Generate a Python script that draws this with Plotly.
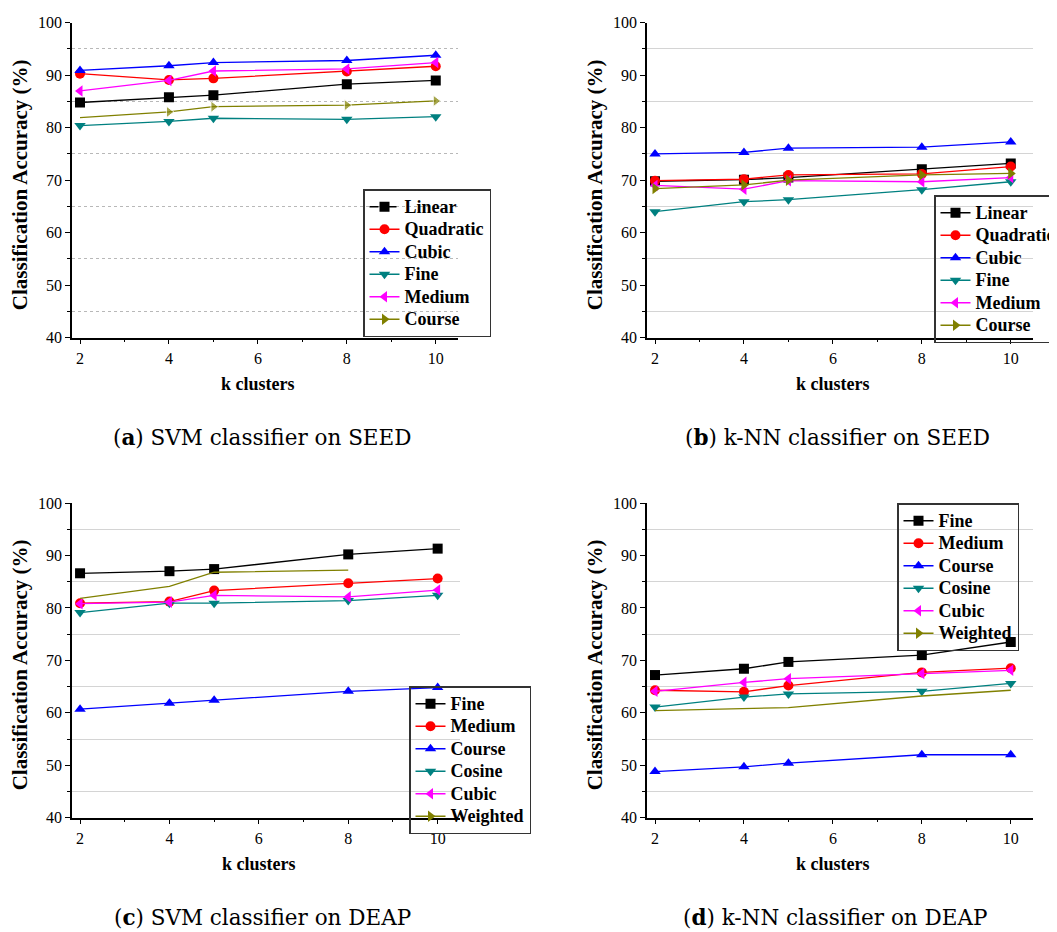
import plotly.graph_objects as go

W, H = 1057, 932
OFF = 8  # page body margin shifts the figure by 8px; compensate
k = [2, 4, 5, 8, 10]

# (a) SVM on SEED
a_names = ["Linear", "Quadratic", "Cubic", "Fine", "Medium", "Course"]
a_linear = [84.8, 85.8, 86.2, 88.3, 89.0]
a_quadratic = [90.3, 89.1, 89.4, 90.7, 91.7]
a_cubic = [90.9, 91.8, 92.4, 92.8, 93.8]
a_fine = [80.4, 81.2, 81.8, 81.6, 82.1]
a_medium = [87.0, 89.0, 90.8, 91.2, 92.4]
a_course = [81.9, 83.0, 84.0, 84.3, 85.1]

# (b) k-NN on SEED
b_names = ["Linear", "Quadratic", "Cubic", "Fine", "Medium", "Course"]
b_linear = [69.8, 70.1, 70.5, 72.1, 73.2]
b_quadratic = [69.9, 70.2, 71.0, 71.2, 72.6]
b_cubic = [75.0, 75.3, 76.1, 76.3, 77.3]
b_fine = [64.0, 65.9, 66.3, 68.2, 69.7]
b_medium = [69.0, 68.3, 69.9, 69.7, 70.5]
b_course = [68.4, 69.1, 70.0, 71.0, 71.3]

# (c) SVM on DEAP
c_names = ["Fine", "Medium", "Course", "Cosine", "Cubic", "Weighted"]
c_fine = [86.6, 87.0, 87.4, 90.2, 91.3]
c_medium = [80.9, 81.2, 83.3, 84.7, 85.6]
c_course = [60.7, 61.8, 62.4, 64.1, 64.8]
c_cosine = [79.1, 80.9, 80.9, 81.4, 82.4]
c_cubic = [80.8, 81.1, 82.4, 82.1, 83.4]
c_weighted = [81.8, 84.1, 86.8, 87.2, None]

# (d) k-NN on DEAP
d_names = ["Fine", "Medium", "Course", "Cosine", "Cubic", "Weighted"]
d_fine = [67.2, 68.4, 69.7, 71.0, 73.5]
d_medium = [64.3, 64.0, 65.2, 67.7, 68.5]
d_course = [48.8, 49.7, 50.4, 52.0, 52.0]
d_cosine = [61.1, 63.0, 63.6, 64.1, 65.6]
d_cubic = [64.1, 65.8, 66.5, 67.5, 68.1]
d_weighted = [60.4, 60.8, 61.0, 63.2, 64.3]

x_ticks = [2, 4, 6, 8, 10]
y_ticks = [40, 50, 60, 70, 80, 90, 100]

captions = ["SVM classifier on SEED", "k-NN classifier on SEED",
            "SVM classifier on DEAP", "k-NN classifier on DEAP"]
letters = ["a", "b", "c", "d"]

BLACK, RED, BLUE, TEAL, MAG, OLIVE = "#000000", "#FF0000", "#0000FF", "#008080", "#FF00FF", "#808000"
SYM = {"sq": "square", "ci": "circle", "up": "triangle-up", "dn": "triangle-down",
       "lf": "triangle-left", "rt": "triangle-right"}

SERIF = "Liberation Serif, Times New Roman, serif"


def px(x):
    return (x - OFF) / W


def py(y):
    return 1 - (y - OFF) / H


fig = go.Figure()

# panel geometry in reference pixels: (left, right, top, bottom)
panels = [(72, 458, 22.7, 337.7), (647, 1033, 22.7, 337.7),
          (72, 460, 503, 817.7), (647, 1033, 503, 817.7)]


def add(panel, name, y, color, sym, legend_marker=True, plot_marker=True, msize=None, dash=None):
    ax = "" if panel == 1 else str(panel)
    lg = "legend" if panel == 1 else "legend%d" % panel
    ms = msize if msize is not None else 10
    fig.add_trace(go.Scatter(
        x=k, y=y, name=name, mode="lines+markers" if plot_marker else "lines",
        line=dict(color=color, width=1.3),
        marker=dict(symbol=SYM[sym], color=color, size=ms),
        xaxis="x" + ax, yaxis="y" + ax, showlegend=False, connectgaps=False))
    fig.add_trace(go.Scatter(
        x=[None], y=[None], name='<span style="font-size:18px">%s</span>' % name,
        mode="lines+markers" if legend_marker else "lines",
        line=dict(color=color, width=1.3, dash=dash),
        marker=dict(symbol=SYM[sym], color=color, size=10),
        xaxis="x" + ax, yaxis="y" + ax, showlegend=True, legend=lg))


# (a)
add(1, a_names[0], a_linear, BLACK, "sq", dash="dash")
add(1, a_names[1], a_quadratic, RED, "ci")
add(1, a_names[2], a_cubic, BLUE, "up")
add(1, a_names[3], a_fine, TEAL, "dn")
add(1, a_names[4], a_medium, MAG, "lf")
add(1, a_names[5], a_course, OLIVE, "rt", msize=[0, 10, 10, 10, 10])
# (b)
add(2, b_names[0], b_linear, BLACK, "sq")
add(2, b_names[1], b_quadratic, RED, "ci")
add(2, b_names[2], b_cubic, BLUE, "up")
add(2, b_names[3], b_fine, TEAL, "dn")
add(2, b_names[4], b_medium, MAG, "lf")
add(2, b_names[5], b_course, OLIVE, "rt")
# (c)
add(3, c_names[0], c_fine, BLACK, "sq")
add(3, c_names[1], c_medium, RED, "ci")
add(3, c_names[2], c_course, BLUE, "up")
add(3, c_names[3], c_cosine, TEAL, "dn")
add(3, c_names[4], c_cubic, MAG, "lf")
add(3, c_names[5], c_weighted, OLIVE, "rt", plot_marker=False)
# (d)
add(4, d_names[0], d_fine, BLACK, "sq")
add(4, d_names[1], d_medium, RED, "ci")
add(4, d_names[2], d_course, BLUE, "up")
add(4, d_names[3], d_cosine, TEAL, "dn")
add(4, d_names[4], d_cubic, MAG, "lf")
add(4, d_names[5], d_weighted, OLIVE, "rt", plot_marker=False)

layout = dict(width=W, height=H, margin=dict(l=0, r=0, t=0, b=0, autoexpand=False),
              paper_bgcolor="white", plot_bgcolor="rgba(0,0,0,0)",
              font=dict(family=SERIF, size=16, color="black"))

annotations = []
for i, (l, r, t, b) in enumerate(panels):
    n = i + 1
    ax = "" if n == 1 else str(n)
    grid = dict(gridcolor="#b8b8b8", griddash="dot", gridwidth=1) if n == 1 else \
        dict(gridcolor="#d4d4d4", griddash="solid", gridwidth=1)
    layout["xaxis" + ax] = dict(
        domain=[px(l), px(r)], anchor="y" + ax, range=[1.82, 10.5], automargin=False,
        tickvals=x_ticks, ticks="outside", ticklen=5, tickwidth=1.2, tickcolor="black",
        showline=True, linecolor="black", linewidth=1.5, showgrid=False, zeroline=False,
        tickfont=dict(family=SERIF, size=16),
        minor=dict(tickvals=[3, 5, 7, 9], ticks="outside", ticklen=3, tickcolor="black", showgrid=False))
    layout["yaxis" + ax] = dict(
        domain=[py(b), py(t)], anchor="x" + ax, range=[40, 100], automargin=False,
        tickvals=y_ticks, ticks="outside", ticklen=5, tickwidth=1.2, tickcolor="black",
        showline=True, linecolor="black", linewidth=1.5, showgrid=False, zeroline=False,
        tickfont=dict(family=SERIF, size=16),
        minor=dict(tickvals=[45, 55, 65, 75, 85, 95], ticks="outside", ticklen=3,
                   tickcolor="black", showgrid=True, **grid))
    # y title
    annotations.append(dict(text="<b>Classification Accuracy (%)</b>", xref="paper", yref="paper",
                            x=px(l - 52), y=py((t + b) / 2 + 5), textangle=-90,
                            showarrow=False, font=dict(family=SERIF, size=21),
                            xanchor="center", yanchor="middle"))
    # x title
    annotations.append(dict(text="<b>k clusters</b>", xref="paper", yref="paper",
                            x=px((l + r) / 2 - 7), y=py(b + 46), showarrow=False,
                            font=dict(family=SERIF, size=18), xanchor="center", yanchor="middle"))

cap_pos = [(262, 437), (837, 437), (262, 917), (835, 917)]
for i, (cx, cy) in enumerate(cap_pos):
    annotations.append(dict(text="(<b>%s</b>) %s" % (letters[i], captions[i]), xref="paper", yref="paper",
                            x=px(cx), y=py(cy), showarrow=False,
                            font=dict(family="DejaVu Serif", size=21.5), xanchor="center", yanchor="middle"))

layout["annotations"] = annotations

leg_pos = [(363, 189), (934, 195), (409, 686), (897, 503)]
for i, (lx, ly) in enumerate(leg_pos):
    key = "legend" if i == 0 else "legend%d" % (i + 1)
    layout[key] = dict(x=px(lx), y=py(ly), xanchor="left", yanchor="top",
                       xref="paper", yref="paper",
                       bgcolor="rgba(0,0,0,0)", bordercolor="#333333", borderwidth=1.5,
                       font=dict(family=SERIF, size=15, color="black", weight="bold"),
                       itemwidth=30, tracegroupgap=0)

fig.update_layout(**layout)
fig.write_html("out.html")
